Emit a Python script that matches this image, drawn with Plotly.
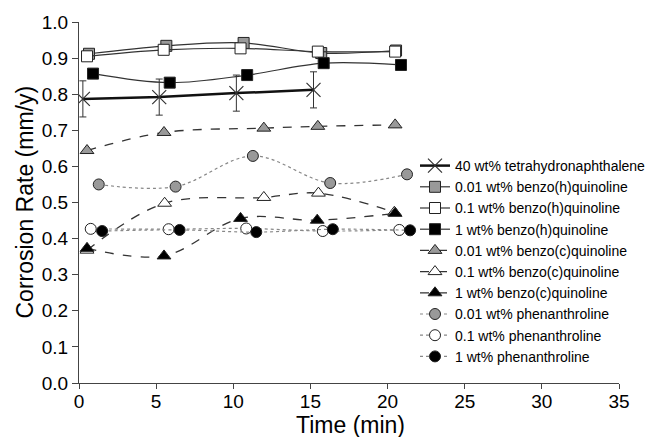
import plotly.graph_objects as go

# ---- data (time in min, corrosion rate in mm/y) ----
thn_t = [0.25, 5.2, 10.2, 15.2]
thn_v = [0.787, 0.792, 0.803, 0.812]
thn_err = [0.05, 0.05, 0.05, 0.05]

bh001_t = [0.65, 5.66, 10.67, 15.7, 20.55]
bh001_v = [0.912, 0.934, 0.942, 0.914, 0.921]
bh01_t = [0.52, 5.49, 10.47, 15.48, 20.49]
bh01_v = [0.905, 0.923, 0.927, 0.918, 0.918]
bh1_t = [0.91, 5.88, 10.9, 15.86, 20.87]
bh1_v = [0.857, 0.832, 0.853, 0.886, 0.881]

bc001_t = [0.52, 5.51, 11.98, 15.48, 20.49]
bc001_v = [0.644, 0.694, 0.706, 0.711, 0.715]
bc01_t = [0.52, 5.55, 11.98, 15.52, 20.44]
bc01_v = [0.368, 0.498, 0.514, 0.526, 0.473]
bc1_t = [0.52, 5.51, 10.47, 15.44, 20.49]
bc1_v = [0.373, 0.352, 0.456, 0.451, 0.470]

ph001_t = [1.28, 6.26, 11.27, 16.28, 21.26]
ph001_v = [0.550, 0.544, 0.629, 0.554, 0.578]
ph01_t = [0.76, 5.81, 10.84, 15.8, 20.76]
ph01_v = [0.427, 0.426, 0.428, 0.421, 0.424]
ph1_t = [1.5, 6.52, 11.49, 16.45, 21.46]
ph1_v = [0.421, 0.424, 0.418, 0.426, 0.423]

x_ticks = [0, 5, 10, 15, 20, 25, 30, 35]
y_ticks = [0.0, 0.1, 0.2, 0.3, 0.4, 0.5, 0.6, 0.7, 0.8, 0.9, 1.0]

x_title = "Time (min)"
y_title = "Corrosion Rate (mm/y)"

GRAY = "#999999"
EDGE = "#222222"

fig = go.Figure()

fig.add_trace(go.Scatter(
    x=thn_t, y=thn_v, name="40 wt% tetrahydronaphthalene", mode="lines+markers",
    line=dict(color="#111111", width=2.5),
    marker=dict(symbol="x-thin", size=14, line=dict(color="#333333", width=1.2)),
    error_y=dict(type="data", array=thn_err, visible=True, color="#333333", thickness=1, width=3.5),
))

def add(t, v, name, sym, fill, dash, lcolor, lwidth, size):
    fig.add_trace(go.Scatter(
        x=t, y=v, name=name, mode="lines+markers",
        line=dict(color=lcolor, width=lwidth, dash=dash, shape="spline", smoothing=1.0),
        marker=dict(symbol=sym, size=size, color=fill, line=dict(color=EDGE, width=1)),
    ))

add(bh001_t, bh001_v, "0.01 wt% benzo(h)quinoline", "square", GRAY, "solid", "#333333", 1.2, 11)
add(bh01_t, bh01_v, "0.1 wt% benzo(h)quinoline", "square", "white", "solid", "#333333", 1.2, 11)
add(bh1_t, bh1_v, "1 wt% benzo(h)quinoline", "square", "black", "solid", "#333333", 1.2, 11)
add(bc001_t, bc001_v, "0.01 wt% benzo(c)quinoline", "triangle-up", GRAY, "dash", "#333333", 1.3, 12)
add(bc01_t, bc01_v, "0.1 wt% benzo(c)quinoline", "triangle-up", "white", "dash", "#333333", 1.3, 12)
add(bc1_t, bc1_v, "1 wt% benzo(c)quinoline", "triangle-up", "black", "dash", "#333333", 1.3, 12)
add(ph001_t, ph001_v, "0.01 wt% phenanthroline", "circle", GRAY, "dot", "#888888", 1.2, 11)
add(ph01_t, ph01_v, "0.1 wt% phenanthroline", "circle", "white", "dot", "#888888", 1.2, 11)
add(ph1_t, ph1_v, "1 wt% phenanthroline", "circle", "black", "dot", "#888888", 1.2, 11)

FONT = "Liberation Sans, Arial, Helvetica, sans-serif"

L, R, T, B = 79, 44, 22, 54
W, H = 663, 437
pw = W - L - R
ph = H - T - B

fig.update_layout(
    width=W, height=H,
    margin=dict(l=L, r=R, t=T, b=B, autoexpand=False),
    paper_bgcolor="white", plot_bgcolor="white",
    font=dict(family=FONT, color="black"),
    showlegend=True,
    legend=dict(x=(415 - L) / pw, y=(H - B - 150) / ph, xanchor="left", yanchor="top",
                font=dict(size=14, family=FONT), bgcolor="rgba(0,0,0,0)",
                itemwidth=30, tracegroupgap=0),
    xaxis=dict(range=[0, 35], tickvals=x_ticks, ticks="outside", ticklen=5,
               tickcolor="#444444", showline=True, linecolor="#444444", linewidth=1,
               showgrid=False, zeroline=False, tickfont=dict(size=19), automargin=False,
               ticklabelstandoff=-4),
    yaxis=dict(range=[0, 1.0], tickvals=y_ticks, tickformat=".1f", ticks="outside", ticklen=6,
               tickcolor="#444444", showline=True, linecolor="#444444", linewidth=1,
               showgrid=False, zeroline=False, tickfont=dict(size=19), automargin=False),
    annotations=[
        dict(text=x_title, xref="paper", yref="paper", x=(350 - L) / pw, y=-(425 - (H - B)) / ph,
             xanchor="center", yanchor="middle", showarrow=False, font=dict(size=23)),
        dict(text=y_title, xref="paper", yref="paper", x=-(L - 24) / pw, y=0.5,
             xanchor="center", yanchor="middle", showarrow=False, textangle=-90,
             font=dict(size=23)),
    ],
)

fig.write_html("out.html", config={"displayModeBar": False},
               post_script="document.body.style.margin='0';document.body.style.padding='0';")
